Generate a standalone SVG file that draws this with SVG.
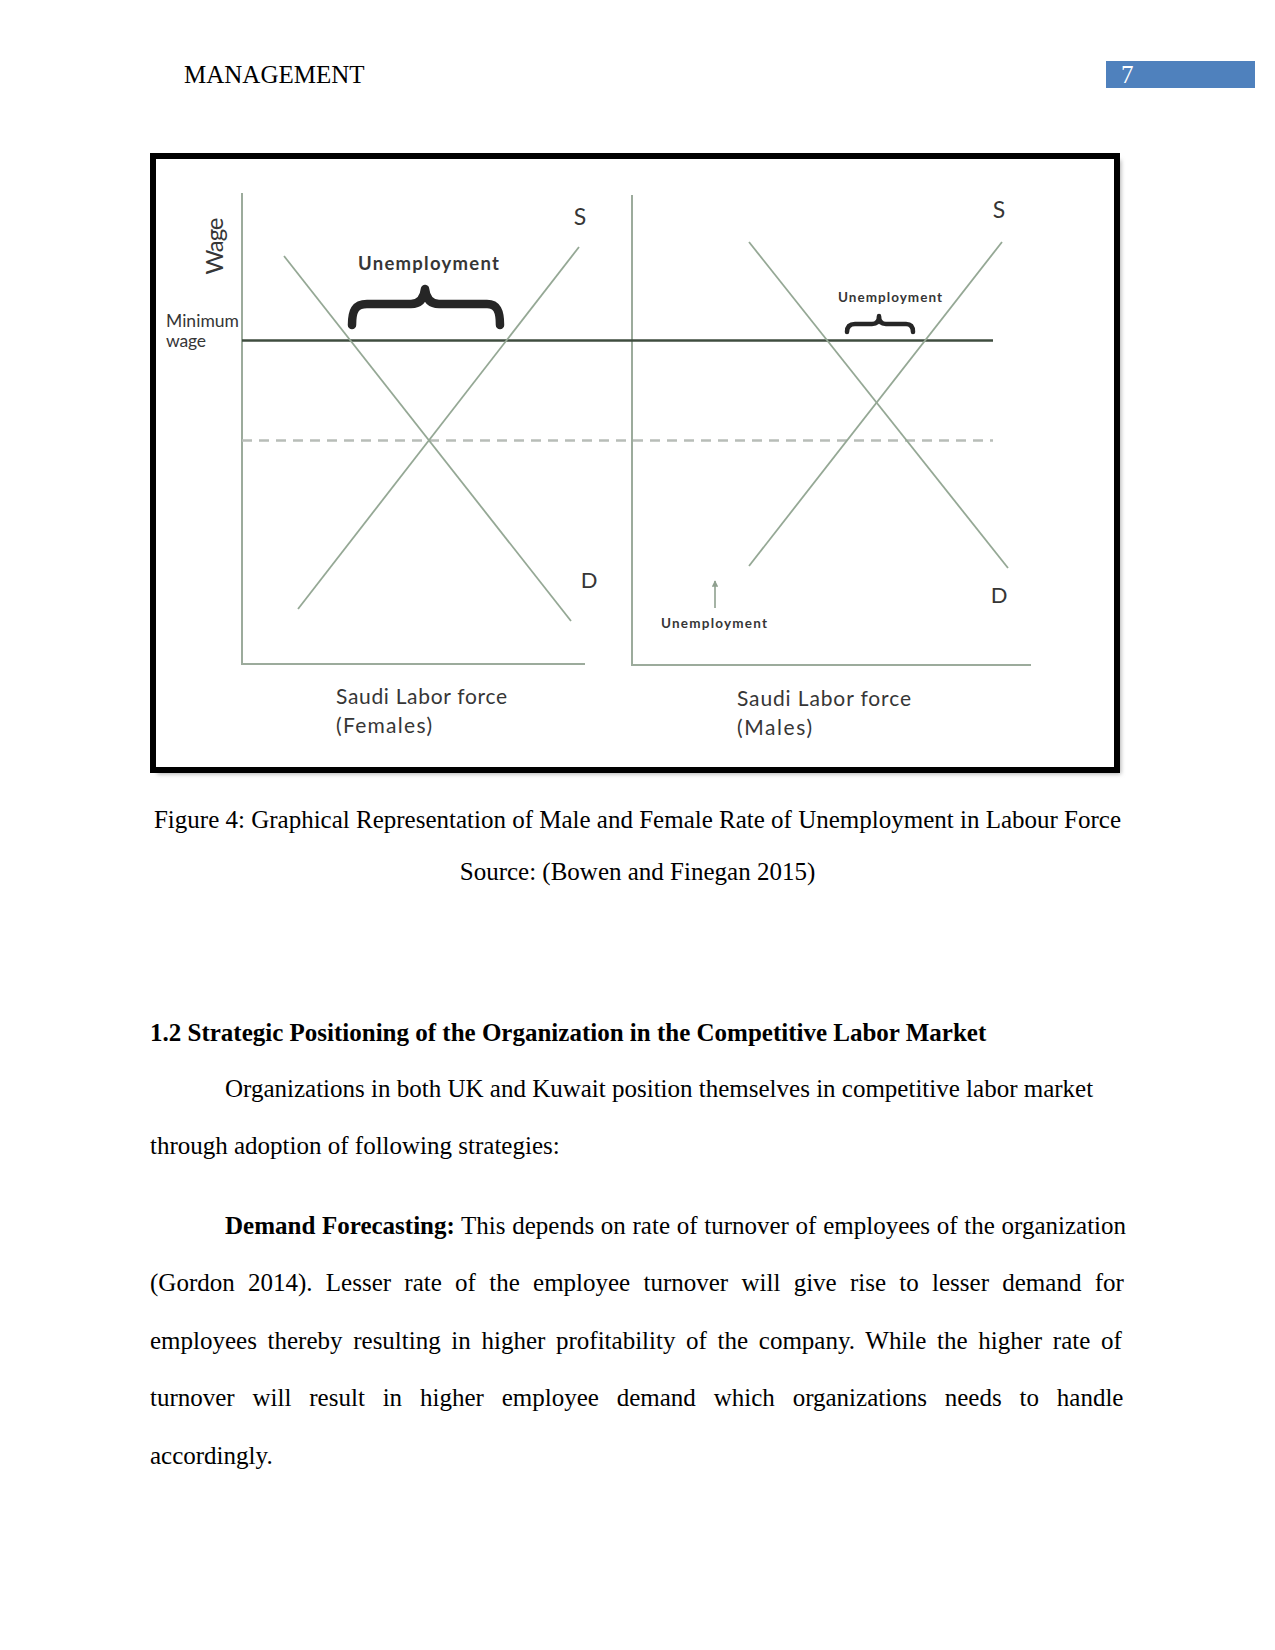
<svg xmlns="http://www.w3.org/2000/svg" width="1275" height="1650" viewBox="0 0 1275 1650">
<style>
.serif{font-family:"Liberation Serif","Times New Roman",serif;font-size:25px;fill:#000}
.bold{font-weight:bold}
.lbl{font-family:Lato,"Open Sans","Liberation Sans",sans-serif;fill:#363636}
.ax{stroke:#9cab9c;stroke-width:2;fill:none}
.cv{stroke:#95a895;stroke-width:1.8;fill:none}
.brace{stroke:#262626;fill:none;stroke-linecap:round;stroke-linejoin:round}
</style>
<defs>
<filter id="sh" x="-5%" y="-5%" width="110%" height="110%"><feGaussianBlur stdDeviation="2"/></filter>
<marker id="ah" viewBox="0 0 10 10" refX="9" refY="5" markerWidth="4" markerHeight="4" orient="auto"><path d="M0,0 L10,5 L0,10 z" fill="#8fa08f"/></marker>
</defs>
<rect width="1275" height="1650" fill="#fff"/>

<g id="header">
<text class="serif" x="184" y="83">MANAGEMENT</text>
<rect x="1106" y="61" width="149" height="27" fill="#4f81bd"/>
<text class="serif" x="1121" y="83" style="fill:#fff">7</text>
</g>

<g id="figure">
<rect x="157" y="160" width="964" height="614" fill="#b0b0b0" filter="url(#sh)"/>
<rect x="153" y="156" width="964" height="614" fill="#fff" stroke="#000" stroke-width="6"/>

<g id="axes">
<line class="ax" x1="242" y1="193" x2="242" y2="664"/>
<line class="ax" x1="241" y1="664" x2="585" y2="664"/>
<line class="ax" x1="632" y1="195" x2="632" y2="665"/>
<line class="ax" x1="631" y1="665" x2="1031" y2="665"/>
</g>
<g id="levels">
<line x1="242" y1="340.5" x2="993" y2="340.5" stroke="#3f4d3f" stroke-width="2.5"/>
<line x1="242" y1="440.5" x2="993" y2="440.5" stroke="#b8bdb8" stroke-width="2.5" stroke-dasharray="10 7"/>
</g>
<g id="curves">
<line class="cv" x1="284" y1="256" x2="571" y2="621"/>
<line class="cv" x1="298" y1="609" x2="579" y2="247"/>
<line class="cv" x1="749" y1="242" x2="1008" y2="568"/>
<line class="cv" x1="749" y1="566" x2="1002" y2="242"/>
</g>
<g id="braces">
<path class="brace" stroke-width="8.5" d="M352,325 C352,311 355,304 367,304 L411,304 C420,304 424,298 425,289 C426,298 430,304 439,304 L487,304 C497,304 500,311 500,325"/>
<path class="brace" stroke-width="4.5" d="M847,332 C847,327 849,324 855,324 L872,324 C877,324 879,321 879,316 C879,321 881,324 886,324 L906,324 C911,324 913,327 913,332"/>
</g>
<g id="arrow">
<line x1="715" y1="608" x2="715" y2="581" stroke="#8fa08f" stroke-width="1.6" marker-end="url(#ah)"/>
</g>
<g id="labels">
<text class="lbl" transform="translate(223,246) rotate(-90)" text-anchor="middle" font-size="24" textLength="57">Wage</text>
<text class="lbl" x="166" y="327" font-size="17.5" textLength="73">Minimum</text>
<text class="lbl" x="166" y="347" font-size="17.5" textLength="40">wage</text>
<text class="lbl" x="580" y="224.5" font-size="23" text-anchor="middle">S</text>
<text class="lbl" x="589" y="588" font-size="22" text-anchor="middle">D</text>
<text class="lbl" x="999" y="218" font-size="23" text-anchor="middle">S</text>
<text class="lbl" x="999" y="603" font-size="22" text-anchor="middle">D</text>
<text class="lbl" x="358" y="270" font-size="18.5" font-weight="bold" textLength="141">Unemployment</text>
<text class="lbl" x="838" y="302" font-size="13.5" font-weight="bold" textLength="104">Unemployment</text>
<text class="lbl" x="661" y="628" font-size="13.5" font-weight="bold" textLength="106">Unemployment</text>
<text class="lbl" x="336" y="704" font-size="21" textLength="171">Saudi Labor force</text>
<text class="lbl" x="336" y="733" font-size="21" textLength="96">(Females)</text>
<text class="lbl" x="737" y="706" font-size="21" textLength="174">Saudi Labor force</text>
<text class="lbl" x="737" y="735" font-size="21" textLength="75">(Males)</text>
</g>
</g>

<g id="caption">
<text class="serif" x="637.5" y="828" text-anchor="middle">Figure 4: Graphical Representation of Male and Female Rate of Unemployment in Labour Force</text>
<text class="serif" x="637.5" y="880" text-anchor="middle">Source: (Bowen and Finegan 2015)</text>
</g>

<g id="body">
<text class="serif bold" x="150" y="1041">1.2 Strategic Positioning of the Organization in the Competitive Labor Market</text>
<text class="serif" x="225" y="1097">Organizations in both UK and Kuwait position themselves in competitive labor market</text>
<text class="serif" x="150" y="1154">through adoption of following strategies:</text>
<text class="serif" x="225" y="1233.5" word-spacing="0.45"><tspan class="bold">Demand Forecasting:</tspan> This depends on rate of turnover of employees of the organization</text>
<text class="serif" x="150" y="1291" word-spacing="7.03">(Gordon 2014). Lesser rate of the employee turnover will give rise to lesser demand for</text>
<text class="serif" x="150" y="1348.5" word-spacing="4.42">employees thereby resulting in higher profitability of the company. While the higher rate of</text>
<text class="serif" x="150" y="1406" word-spacing="11.6">turnover will result in higher employee demand which organizations needs to handle</text>
<text class="serif" x="150" y="1463.5">accordingly.</text>
</g>
</svg>
